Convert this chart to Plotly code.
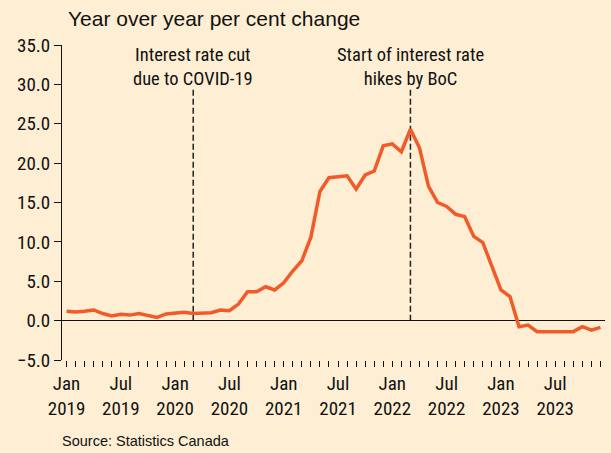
import plotly.graph_objects as go

# Monthly index: 0 = Jan 2019 ... 59 = Dec 2023
months = list(range(60))
yoy_change = [
    1.2, 1.1, 1.2, 1.35, 0.9, 0.6, 0.8, 0.7, 0.9, 0.65, 0.4, 0.85,
    0.9, 1.05, 0.9, 0.93, 1.0, 1.35, 1.25, 2.1, 3.67, 3.67, 4.3, 3.9,
    4.8, 6.3, 7.6, 10.6, 16.4, 18.15, 18.3, 18.4, 16.7, 18.5, 19.0, 22.2,
    22.45, 21.45, 24.3, 21.95, 17.05, 15.0, 14.5, 13.5, 13.2, 10.7, 9.9, 6.85,
    3.9, 3.05, -0.77, -0.56, -1.4, -1.4, -1.4, -1.4, -1.4, -0.77, -1.2, -0.86,
]

tick_labels = {0: "Jan<br>2019", 6: "Jul<br>2019", 12: "Jan<br>2020", 18: "Jul<br>2020",
               24: "Jan<br>2021", 30: "Jul<br>2021", 36: "Jan<br>2022", 42: "Jul<br>2022",
               48: "Jan<br>2023", 54: "Jul<br>2023"}

event_months = [14, 38]
event_texts = ["Interest rate cut<br>due to COVID-19", "Start of interest rate<br>hikes by BoC"]
event_line_top = 29.5

title_text = "Year over year per cent change"
source_text = "Source: Statistics Canada"

BG = "#FEEED3"
LINE = "#F15A29"
NARROW = "Liberation Sans Narrow, Arial Narrow, Roboto Condensed, Liberation Sans, Arial, sans-serif"
REG = "Liberation Sans, Arial, sans-serif"

W, H = 611, 453
L, R, T, B = 62, 6, 45, 93
PW, PH = W - L - R, H - T - B

fig = go.Figure()
fig.add_trace(go.Scatter(x=months, y=yoy_change, mode="lines",
                         line=dict(color=LINE, width=3.5), hoverinfo="skip"))

for m, t in zip(event_months, event_texts):
    fig.add_shape(type="line", x0=m, x1=m, y0=0, y1=event_line_top, xref="x", yref="y",
                  line=dict(color="#222222", width=1.5, dash="6px,3px"), layer="below")
    fig.add_annotation(x=m, y=(H - B - 66.5) / PH, xref="x", yref="paper", text=t,
                       showarrow=False, xanchor="center", yanchor="middle", align="center",
                       font=dict(family=NARROW, size=18.5, color="#111111"))

fig.add_annotation(x=(60 - L) / PW, y=(H - B - 441) / PH, xref="paper", yref="paper",
                   text=source_text, showarrow=False, xanchor="left", yanchor="middle",
                   font=dict(family=REG, size=14.5, color="#111111"))

fig.update_layout(
    width=W, height=H,
    margin=dict(l=L, r=R, t=T, b=B, pad=0),
    paper_bgcolor=BG, plot_bgcolor=BG,
    showlegend=False,
    title=dict(text=title_text, xref="container", yref="container",
               x=68 / W, y=1 - 19 / H, xanchor="left", yanchor="middle",
               font=dict(family=REG, size=21, color="#111111")),
    xaxis=dict(range=[-0.5, 59.5], showgrid=False, zeroline=False, showline=False,
               tickmode="array", tickvals=months,
               ticktext=[tick_labels.get(m, "") for m in months],
               ticks="outside", ticklen=6, tickwidth=1, tickcolor="#111111",
               tickfont=dict(family=NARROW, size=19, color="#111111"), fixedrange=True),
    yaxis=dict(range=[-5, 35], dtick=5, tick0=0, tickformat=".1f", showgrid=False,
               zeroline=True, zerolinecolor="#111111", zerolinewidth=1,
               showline=True, linecolor="#111111", linewidth=1,
               ticks="outside", ticklen=7, tickwidth=1, tickcolor="#111111",
               tickfont=dict(family=NARROW, size=19, color="#111111"), fixedrange=True),
)

fig.write_html("out.html", config={"displayModeBar": False},
               post_script="document.body.style.margin='0';")
